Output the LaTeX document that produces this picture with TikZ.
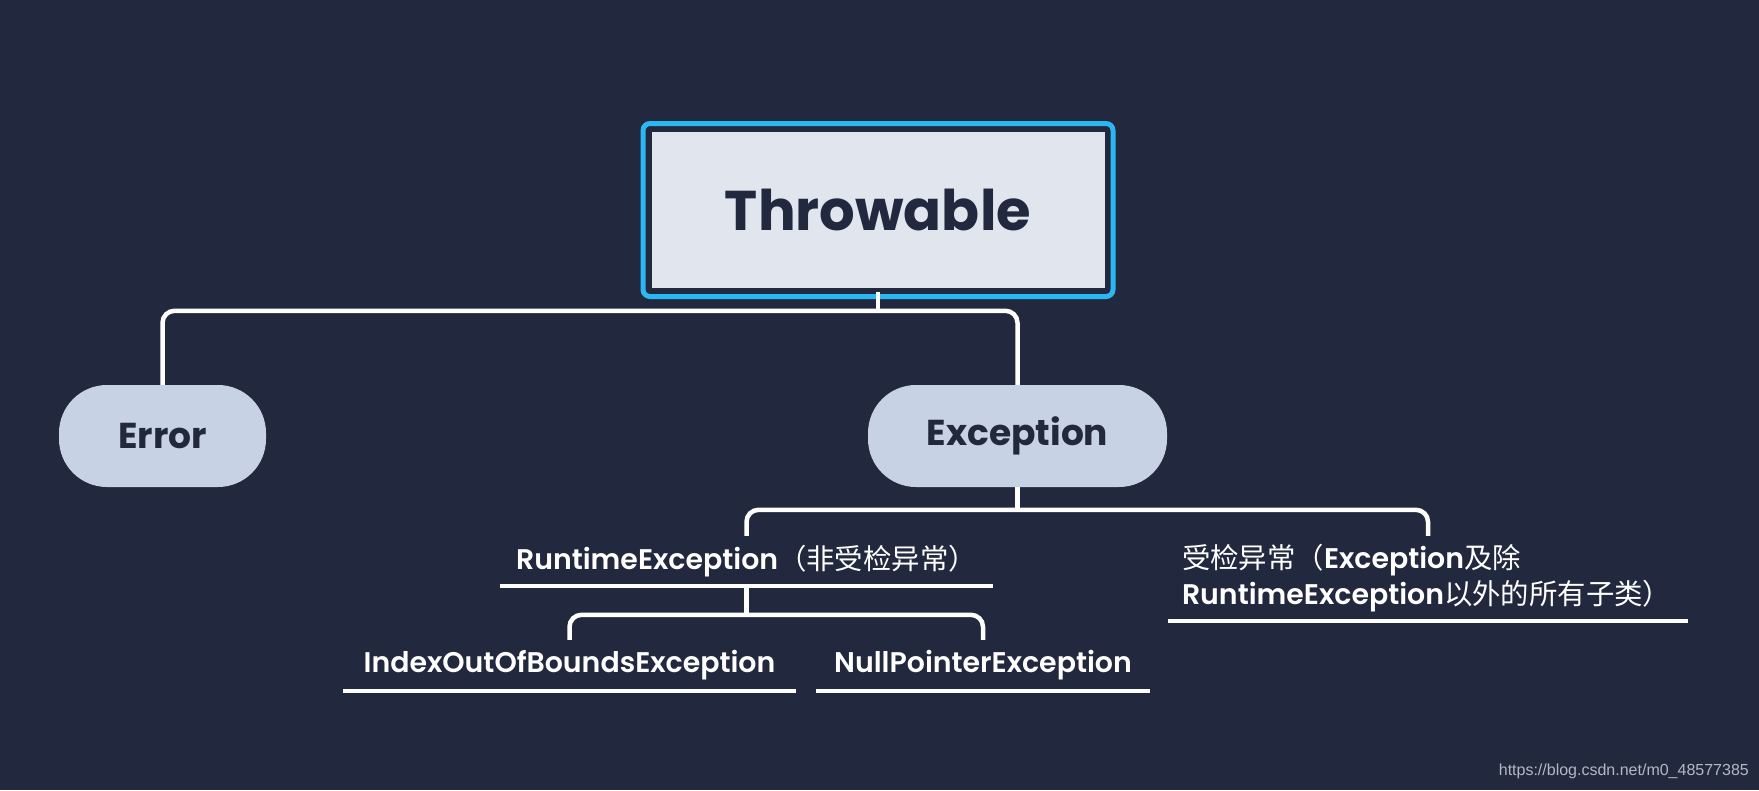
\documentclass[tikz,border=0pt]{standalone}
\usepackage{fontspec}
\setmainfont{Poppins}
\newfontfamily\popsb{Poppins SemiBold}
\newfontfamily\cjk{Noto Sans CJK SC}
\newfontfamily\wmfont{Liberation Sans}
\newcommand\zh[1]{{\cjk #1}}
\definecolor{bg}{HTML}{22283E}
\definecolor{dark}{HTML}{22283E}
\definecolor{boxlight}{HTML}{E0E5EE}
\definecolor{pillc}{HTML}{C7D2E4}
\definecolor{blueb}{HTML}{2BB7F3}
\definecolor{wmc}{HTML}{B4B8C2}
\tikzset{
  conn/.style={draw=white, line width=4.5pt, rounded corners=12pt},
  stem/.style={draw=white, line width=4.5pt},
  uline/.style={draw=white, line width=3.5pt},
  topbox/.style={rectangle, fill=boxlight, draw=bg, line width=4pt,
    minimum width=457pt, minimum height=160pt, text=dark,
    font=\bfseries\fontsize{56}{62}\selectfont},
  pill/.style={rectangle, rounded corners=48pt, fill=pillc, minimum height=102pt,
    text=dark, font=\bfseries\fontsize{36}{42}\selectfont},
  leaf/.style={inner sep=0pt, text=white, font=\popsb\fontsize{28.4}{36}\selectfont,
    append after command={(\tikzlastnode.south west) edge[uline] (\tikzlastnode.south east)}},
}
\begin{document}
\begin{tikzpicture}[x=1pt,y=-1pt]
\fill[bg] (0,0) rectangle (1759,790);
\useasboundingbox (0,0) rectangle (1759,790);
% top node
\node[topbox] (th) at (878,210) {Throwable};
\draw[blueb, line width=5pt, rounded corners=7pt]
  ([xshift=-4.5pt,yshift=4.5pt]th.north west) rectangle ([xshift=4.5pt,yshift=-4.5pt]th.south east);
% second level
\node[pill, minimum width=207pt] (err) at (162.5,436) {Error};
\node[pill, minimum width=299pt] (exc) at (1017.5,436) {Exception};
% third level
\node[leaf, minimum width=493pt, minimum height=50pt] (rt) at (746.5,561)
  {RuntimeException\zh{（非受检异常）}};
\node[leaf, minimum width=520pt, minimum height=85pt, text width=492pt, align=left] (ck) at (1428,578.5)
  {\zh{受检异常（}Exception\zh{及除}\\RuntimeException\zh{以外的所有子类）}};
% fourth level
\node[leaf, minimum width=453pt, minimum height=51pt] (iob) at (569.5,665.5) {IndexOutOfBoundsException};
\node[leaf, minimum width=334pt, minimum height=51pt] (npe) at (983,665.5) {NullPointerException};
% connectors
\draw[stem] (th.south) -- ++(0,21);
\draw[conn] (err.north) -- ++(0,-74) -| (exc.north);
\draw[stem] (exc.south) -- ++(0,23);
\draw[conn] (rt.north) -- ++(0,-26) -| (ck.north);
\draw[stem] (rt.south) -- ++(0,29);
\draw[conn] (iob.north) -- ++(0,-25) -| (npe.north);
% watermark
\node[anchor=east, inner sep=0pt, text=wmc, font=\wmfont\fontsize{16}{18}\selectfont] (wm) at (1749,771)
  {https://blog.csdn.net/m0\_48577385};
\end{tikzpicture}
\end{document}
